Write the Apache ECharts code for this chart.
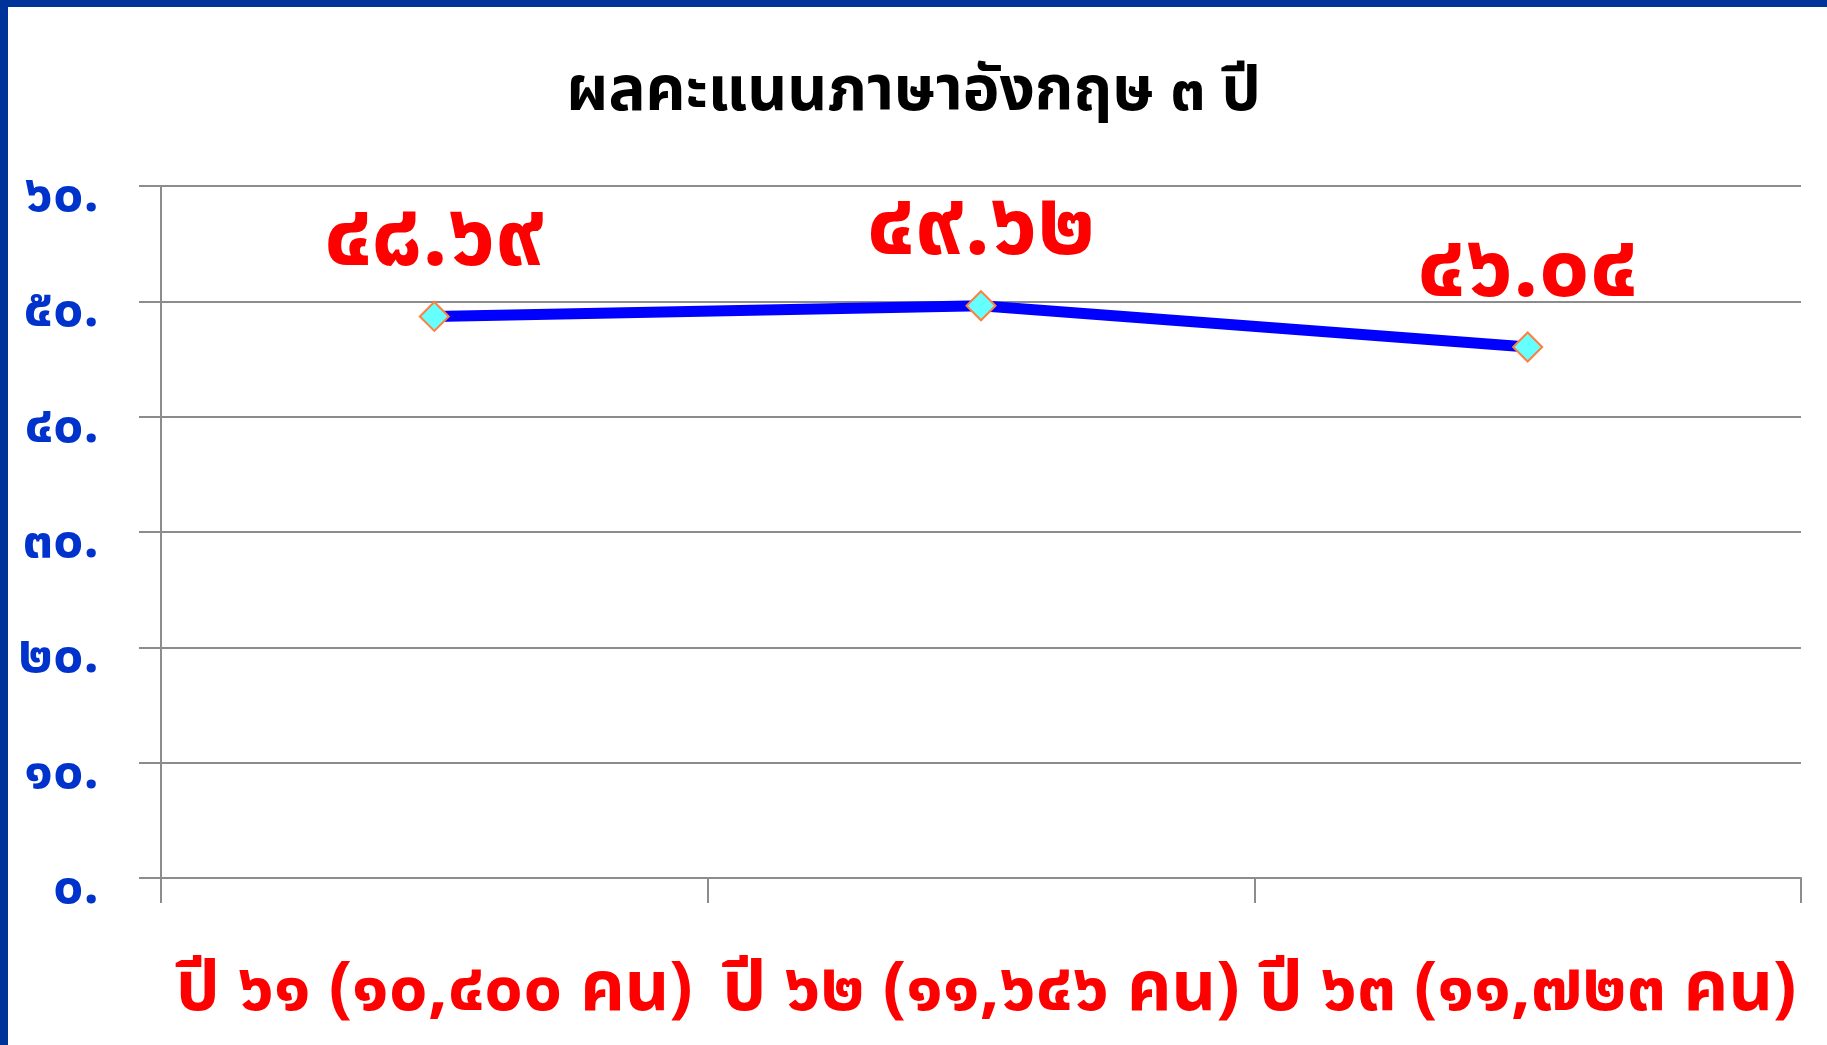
<!DOCTYPE html>
<html>
<head>
<meta charset="utf-8">
<script src="https://cdn.jsdelivr.net/npm/echarts@6/dist/echarts.min.js"></script>
<style>
html,body{margin:0;padding:0;background:#fff;}
#c{width:1827px;height:1045px;}
</style>
</head>
<body>
<div id="c"></div>
<script>
const title = 'ผลคะแนนภาษาอังกฤษ ๓ ปี';
const categories = ['ปี ๖๑ (๑๐,๔๐๐ คน)', 'ปี ๖๒ (๑๑,๖๔๖ คน)', 'ปี ๖๓ (๑๑,๗๒๓ คน)'];
const scores = [48.69, 49.62, 46.04];
const scoreLabels = ['๔๘.๖๙', '๔๙.๖๒', '๔๖.๐๔'];
const yTickLabels = ['๐.', '๑๐.', '๒๐.', '๓๐.', '๔๐.', '๕๐.', '๖๐.'];

const FONT = '"Noto Sans Thai", "Noto Sans", "DejaVu Sans", sans-serif';
const chart = echarts.init(document.getElementById('c'));
chart.setOption({
  backgroundColor: '#fff',
  animation: false,
  title: {
    text: title, left: 'center', top: 61,
    textStyle: {color: '#000', fontSize: 62, fontWeight: 'bold', fontFamily: FONT}
  },
  graphic: [
    {type: 'rect', left: 0, top: 0, shape: {width: 8, height: 1045}, style: {fill: '#003399'}},
    {type: 'rect', left: 0, top: 0, shape: {width: 1827, height: 7}, style: {fill: '#003399'}}
  ],
  grid: {left: 161, right: 26, top: 186, bottom: 167},
  xAxis: {
    type: 'category', data: categories, boundaryGap: true,
    axisLine: {lineStyle: {color: '#8c8c8c', width: 2}},
    axisTick: {show: true, length: 25, lineStyle: {color: '#8c8c8c', width: 2}},
    axisLabel: {interval: 0, margin: 84, color: '#ff0000', fontSize: 69, fontWeight: 'bold', fontFamily: FONT}
  },
  yAxis: {
    type: 'value', min: 0, max: 60, interval: 10,
    axisLine: {show: true, lineStyle: {color: '#8c8c8c', width: 2}},
    axisTick: {show: true, length: 22, lineStyle: {color: '#8c8c8c', width: 2}},
    splitLine: {lineStyle: {color: '#8c8c8c', width: 2}},
    axisLabel: {
      margin: 62, color: '#0033cc', fontSize: 54, fontWeight: 'bold', fontFamily: FONT, align: 'right',
      verticalAlign: 'top', lineHeight: 28,
      formatter: v => yTickLabels[Math.round(v / 10)]
    }
  },
  series: [{
    type: 'line', data: scores,
    lineStyle: {color: '#0000ff', width: 11},
    symbol: 'diamond', symbolSize: 29,
    itemStyle: {color: '#66ffff', borderColor: '#ff7f3f', borderWidth: 2},
    label: {
      show: true, position: 'top', distance: 9,
      formatter: p => scoreLabels[p.dataIndex],
      color: '#ff0000', fontSize: 90, fontWeight: 'bold', fontFamily: FONT
    }
  }]
});
</script>
</body>
</html>
